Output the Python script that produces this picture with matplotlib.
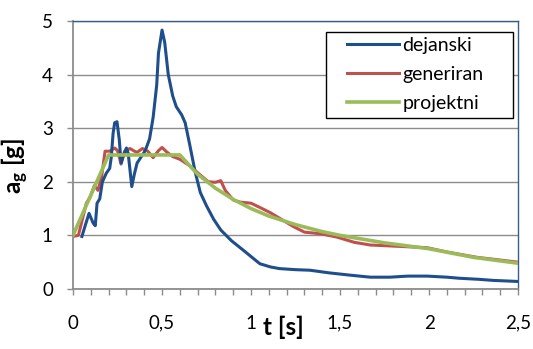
import numpy as np
import matplotlib
matplotlib.use("Agg")
import matplotlib.pyplot as plt
from matplotlib.ticker import MultipleLocator
from matplotlib.patches import Rectangle

plt.rcParams['font.family'] = ['Lato', 'DejaVu Sans']
plt.rcParams['mathtext.default'] = 'regular'

# dejanski (measured)
t_dej = [0.05, 0.07, 0.09, 0.113, 0.125, 0.135, 0.15, 0.165, 0.187, 0.206, 0.215,
         0.225, 0.234, 0.247, 0.26, 0.27, 0.28, 0.30, 0.31, 0.32, 0.33, 0.345,
         0.36, 0.38, 0.40, 0.41, 0.43, 0.45, 0.47, 0.48, 0.50, 0.515, 0.535,
         0.56, 0.58, 0.61, 0.63, 0.655, 0.685, 0.715, 0.75, 0.79, 0.83, 0.89,
         0.965, 1.02, 1.05, 1.11, 1.16, 1.25, 1.33, 1.44, 1.55, 1.67, 1.78,
         1.88, 1.99, 2.1, 2.17, 2.28, 2.36, 2.5]
a_dej = [0.98, 1.2, 1.41, 1.23, 1.18, 1.6, 1.68, 2.0, 2.16, 2.25, 2.46,
         2.9, 3.1, 3.12, 2.78, 2.35, 2.46, 2.63, 2.53, 2.22, 1.91, 2.15,
         2.35, 2.45, 2.55, 2.62, 2.8, 3.2, 3.8, 4.4, 4.83, 4.6, 4.0,
         3.6, 3.4, 3.25, 3.1, 2.7, 2.2, 1.8, 1.55, 1.3, 1.1, 0.9,
         0.7, 0.55, 0.47, 0.41, 0.38, 0.36, 0.35, 0.3, 0.26, 0.22, 0.22,
         0.24, 0.24, 0.22, 0.2, 0.18, 0.16, 0.14]

# generiran (generated)
t_gen = [0.0, 0.03, 0.045, 0.075, 0.097, 0.12, 0.14, 0.16, 0.18, 0.206, 0.234,
         0.25, 0.27, 0.29, 0.32, 0.345, 0.36, 0.39, 0.42, 0.45, 0.48, 0.50,
         0.525, 0.56, 0.6, 0.655, 0.71, 0.76, 0.8, 0.83, 0.855, 0.9, 0.94,
         1.0, 1.05, 1.11, 1.16, 1.24, 1.3, 1.39, 1.48, 1.58, 1.67, 1.8, 1.99,
         2.1, 2.27, 2.5]
a_gen = [0.98, 1.0, 1.2, 1.6, 1.72, 1.93, 1.84, 2.08, 2.57, 2.57, 2.63,
         2.58, 2.33, 2.57, 2.62, 2.57, 2.55, 2.62, 2.57, 2.45, 2.58, 2.64,
         2.56, 2.47, 2.42, 2.3, 2.14, 2.0, 1.99, 2.02, 1.84, 1.66, 1.62,
         1.6, 1.52, 1.42, 1.32, 1.16, 1.06, 1.03, 0.97, 0.87, 0.82, 0.8, 0.77,
         0.69, 0.59, 0.5]

# projektni (design)
t_pro = [0.0, 0.2, 0.6, 0.7, 0.8, 0.9, 1.0, 1.1, 1.25, 1.4, 1.5, 1.75, 2.0, 2.25, 2.5]
a_pro = [1.0, 2.5, 2.5, 2.14, 1.88, 1.67, 1.5, 1.36, 1.2, 1.07, 1.0, 0.86, 0.75, 0.59, 0.48]

x_ticks = [0, 0.5, 1, 1.5, 2, 2.5]
x_labels = ['0', '0,5', '1', '1,5', '2', '2,5']

fig = plt.figure(figsize=(5.33, 3.49), dpi=100)
ax = fig.add_axes([0.137, 0.172, 0.835, 0.768])

ax.plot(t_dej, a_dej, color='#1F4E8C', lw=2.2, label='dejanski', zorder=4)
ax.plot(t_gen, a_gen, color='#C0504D', lw=2.2, label='generiran', zorder=3)
ax.plot(t_pro, a_pro, color='#9BBB59', lw=2.6, label='projektni', zorder=5)

ax.set_xlim(0, 2.5)
ax.set_ylim(0, 5)
ax.set_xticks(x_ticks)
ax.set_xticklabels(x_labels)
ax.xaxis.set_minor_locator(MultipleLocator(0.1))
ax.set_yticks([0, 1, 2, 3, 4, 5])

ax.grid(axis='y', color='#8c8c8c', lw=1.0, zorder=1)
ax.set_axisbelow(True)

for s in ['left', 'bottom']:
    ax.spines[s].set_color('#8c8c8c')
    ax.spines[s].set_linewidth(1.3)
for s in ['top', 'right']:
    ax.spines[s].set_color('#385D8A')
    ax.spines[s].set_linewidth(1.0)

ax.tick_params(axis='both', which='both', direction='out', color='#8c8c8c',
               width=1.0, length=4.5, labelsize=13.5)
ax.tick_params(axis='x', which='major', pad=14)
ax.tick_params(axis='y', which='major', pad=10)

ax.set_xlabel('t [s]', fontsize=17.5, fontweight='bold')
ax.xaxis.set_label_coords(0.472, -0.1)
ax.set_ylabel('a$_g$ [g]', fontsize=17.5, fontweight='bold')
ax.yaxis.set_label_coords(-0.095, 0.46)

# legend box (Excel style, wide left margin)
ax.add_patch(Rectangle((0.569, 0.638), 0.42, 0.321, transform=ax.transAxes,
                       facecolor='white', edgecolor='black', lw=1.0, zorder=6))
leg = ax.legend(loc='upper left', bbox_to_anchor=(0.615, 0.94), fontsize=14,
                handlelength=2.7, handletextpad=0.15, borderpad=0.0,
                borderaxespad=0.0, labelspacing=0.62, frameon=False)
leg.set_zorder(7)

fig.savefig('out.png', dpi=100)
